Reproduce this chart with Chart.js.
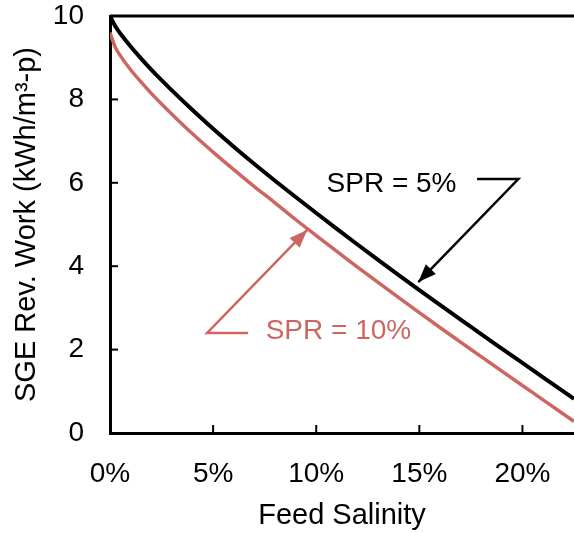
<!DOCTYPE html>
<html>
<head>
<meta charset="utf-8">
<script src="https://cdn.jsdelivr.net/npm/chart.js@4/dist/chart.umd.min.js"></script>
<style>
  html, body { margin: 0; padding: 0; background: #fff; }
  #wrap { width: 574px; height: 533px; }
</style>
</head>
<body>
<div id="wrap"><canvas id="chart"></canvas></div>
<script>
// feed salinity (%) and reversible work (kWh/m3-p)
const salinity = [0, 0.25, 0.5, 1, 1.5, 2, 2.5, 3, 4, 5, 6, 7, 8, 9, 10, 11, 12, 13, 14, 15, 16, 17, 18, 19, 20, 21, 22, 22.5];
const spr5  = [10.0, 9.76, 9.58, 9.27, 8.985, 8.715, 8.46, 8.215, 7.745, 7.295, 6.865, 6.45, 6.05, 5.66, 5.275, 4.895, 4.52, 4.15, 3.785, 3.425, 3.07, 2.72, 2.37, 2.025, 1.68, 1.335, 0.99, 0.82];
const spr10 = [9.60, 9.26, 9.05, 8.71, 8.42, 8.145, 7.89, 7.645, 7.175, 6.735, 6.315, 5.91, 5.52, 5.12, 4.735, 4.355, 3.98, 3.61, 3.245, 2.885, 2.53, 2.18, 1.83, 1.485, 1.14, 0.795, 0.45, 0.28];

const xTicks = [0, 5, 10, 15, 20];
const yTicks = [0, 2, 4, 6, 8, 10];

const black = "#000000";
const red = "#cd6660";
const fontFamily = "Liberation Sans, Arial, Helvetica, sans-serif";

// annotation labels with elbow arrows, in data units
const notes = [
  { text: "SPR = 5%",  color: black, textX: 10.5, textY: 5.97, path: [[17.8, 6.09], [19.8, 6.09], [14.95, 3.62]] },
  { text: "SPR = 10%", color: red,   textX: 7.55, textY: 2.45, path: [[6.7, 2.40], [4.71, 2.40], [9.56, 4.87]] }
];

const frame = {
  id: "frame",
  afterDraw(chart) {
    const ctx = chart.ctx;
    const a = chart.chartArea;
    const xs = chart.scales.x, ys = chart.scales.y;
    ctx.save();
    // top line
    ctx.strokeStyle = black;
    ctx.lineWidth = 3;
    ctx.beginPath();
    ctx.moveTo(a.left, a.top);
    ctx.lineTo(a.right, a.top);
    ctx.stroke();
    // inward tick marks
    ctx.lineWidth = 2;
    xTicks.slice(1).forEach(v => {
      const px = xs.getPixelForValue(v);
      ctx.beginPath();
      ctx.moveTo(px, a.bottom);
      ctx.lineTo(px, a.bottom - 8);
      ctx.stroke();
    });
    yTicks.slice(1, -1).forEach(v => {
      const py = ys.getPixelForValue(v);
      ctx.beginPath();
      ctx.moveTo(a.left, py);
      ctx.lineTo(a.left + 8, py);
      ctx.stroke();
    });
    // annotations
    ctx.font = "28px " + fontFamily;
    ctx.textBaseline = "middle";
    ctx.textAlign = "left";
    notes.forEach(n => {
      ctx.fillStyle = n.color;
      ctx.strokeStyle = n.color;
      ctx.fillText(n.text, xs.getPixelForValue(n.textX), ys.getPixelForValue(n.textY));
      const pts = n.path.map(p => [xs.getPixelForValue(p[0]), ys.getPixelForValue(p[1])]);
      ctx.lineWidth = 2.5;
      ctx.beginPath();
      ctx.moveTo(pts[0][0], pts[0][1]);
      for (let i = 1; i < pts.length; i++) ctx.lineTo(pts[i][0], pts[i][1]);
      ctx.stroke();
      // arrow head
      const p1 = pts[pts.length - 2], p2 = pts[pts.length - 1];
      const ang = Math.atan2(p2[1] - p1[1], p2[0] - p1[0]);
      const len = 18, half = 7;
      ctx.beginPath();
      ctx.moveTo(p2[0], p2[1]);
      ctx.lineTo(p2[0] - len * Math.cos(ang) + half * Math.sin(ang), p2[1] - len * Math.sin(ang) - half * Math.cos(ang));
      ctx.lineTo(p2[0] - len * Math.cos(ang) - half * Math.sin(ang), p2[1] - len * Math.sin(ang) + half * Math.cos(ang));
      ctx.closePath();
      ctx.fill();
    });
    ctx.restore();
  }
};

new Chart(document.getElementById("chart"), {
  type: "line",
  data: {
    datasets: [
      {
        label: "SPR = 10%",
        data: salinity.map((x, i) => ({ x: x, y: spr10[i] })),
        borderColor: red,
        borderWidth: 3.5,
        pointRadius: 0,
        cubicInterpolationMode: "monotone"
      },
      {
        label: "SPR = 5%",
        data: salinity.map((x, i) => ({ x: x, y: spr5[i] })),
        borderColor: black,
        borderWidth: 4,
        pointRadius: 0,
        cubicInterpolationMode: "monotone"
      }
    ]
  },
  options: {
    responsive: true,
    maintainAspectRatio: false,
    animation: false,
    devicePixelRatio: 1,
    layout: { padding: { top: 16, right: 0, bottom: 0, left: 0 } },
    plugins: { legend: { display: false }, tooltip: { enabled: false } },
    scales: {
      x: {
        type: "linear",
        min: 0,
        max: 22.5,
        afterFit: s => { s.height = 100; s.paddingLeft = 0; s.paddingRight = 0; },
        grid: { display: false, drawTicks: false },
        border: { display: true, color: black, width: 3 },
        ticks: {
          stepSize: 5,
          includeBounds: false,
          padding: 24,
          color: black,
          font: { family: fontFamily, size: 28 },
          callback: v => v + "%"
        },
        title: {
          display: true,
          text: "Feed Salinity",
          color: black,
          font: { family: fontFamily, size: 29 },
          padding: { top: 0, bottom: 0 }
        }
      },
      y: {
        min: 0,
        max: 10,
        afterFit: s => { s.width = 110; s.paddingTop = 0; s.paddingBottom = 0; },
        grid: { display: false, drawTicks: false },
        border: { display: true, color: black, width: 3 },
        ticks: {
          stepSize: 2,
          padding: 26,
          color: black,
          font: { family: fontFamily, size: 28 }
        },
        title: {
          display: true,
          text: "SGE Rev. Work (kWh/m³-p)",
          color: black,
          font: { family: fontFamily, size: 29 },
          padding: { top: 10, bottom: 0 }
        }
      }
    }
  },
  plugins: [frame]
});
</script>
</body>
</html>
